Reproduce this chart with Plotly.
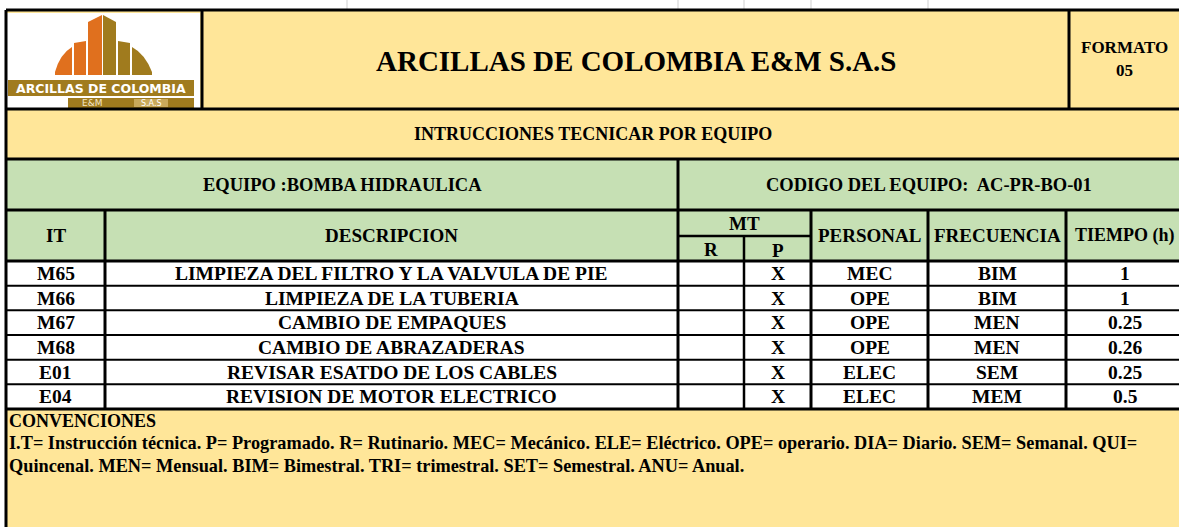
import plotly.graph_objects as go

# ---------------- content (text data) ----------------
company_title = "ARCILLAS DE COLOMBIA E&M S.A.S"
formato_lines = ["FORMATO", "05"]
section_title = "INTRUCCIONES TECNICAR POR EQUIPO"
equipo_label = "EQUIPO :BOMBA HIDRAULICA"
codigo_label = "CODIGO DEL EQUIPO:  AC-PR-BO-01"
main_headers = ["IT", "DESCRIPCION", "PERSONAL", "FRECUENCIA", "TIEMPO (h)"]
mt_headers = ["MT", "R", "P"]

it_codes = ["M65", "M66", "M67", "M68", "E01", "E04"]
descripciones = [
    "LIMPIEZA DEL FILTRO Y LA VALVULA DE PIE",
    "LIMPIEZA DE LA TUBERIA",
    "CAMBIO DE EMPAQUES",
    "CAMBIO DE ABRAZADERAS",
    "REVISAR ESATDO DE LOS CABLES",
    "REVISION DE MOTOR ELECTRICO",
]
mt_r = ["", "", "", "", "", ""]
mt_p = ["X", "X", "X", "X", "X", "X"]
personal = ["MEC", "OPE", "OPE", "OPE", "ELEC", "ELEC"]
frecuencia = ["BIM", "BIM", "MEN", "MEN", "SEM", "MEM"]
tiempo = ["1", "1", "0.25", "0.26", "0.25", "0.5"]

conv_title = "CONVENCIONES"
conv_lines = [
    "I.T= Instrucción técnica. P= Programado. R= Rutinario. MEC= Mecánico. ELE= Eléctrico. "
    "OPE= operario. DIA= Diario. SEM= Semanal. QUI=",
    "Quincenal. MEN= Mensual. BIM= Bimestral. TRI= trimestral. SET= Semestral. ANU= Anual.",
]
logo_text = ["ARCILLAS DE COLOMBIA", "E&M", "S.A.S"]

# ---------------- layout geometry ----------------
W, H = 1179, 527
X_LEFT, X_RIGHT = 6, 1190
Y_TOP, Y_HEAD, Y_SEC, Y_EQ, Y_MT, Y_HDR, Y_DATA_END = 10, 109, 159, 210, 236, 261, 409
X_LOGO, X_FORM = 202, 1069
# column boundaries: IT | DESC | R | P | PERSONAL | FRECUENCIA | TIEMPO
COLS = [X_LEFT, 105, 678, 744, 811, 928, 1066, 1184]
ROW_H = (Y_DATA_END - Y_HDR) / len(it_codes)

YELLOW = "#FFE699"
GREEN = "#C6E0B4"
ORANGE = "#E0701E"
OLIVE = "#A07B1E"
FONT = "Liberation Serif"

shapes = []
annotations = []


def rect(x0, y0, x1, y1, color):
    shapes.append(dict(type="rect", xref="x", yref="y", x0=x0, y0=y0, x1=x1, y1=y1,
                       fillcolor=color, line=dict(width=0), layer="below"))


def hline(y, x0, x1, w=3, color="black"):
    shapes.append(dict(type="line", xref="x", yref="y", x0=x0, x1=x1, y0=y, y1=y,
                       line=dict(color=color, width=w)))


def vline(x, y0, y1, w=3, color="black"):
    shapes.append(dict(type="line", xref="x", yref="y", x0=x, x1=x, y0=y0, y1=y1,
                       line=dict(color=color, width=w)))


def text(x, y, s, size=19, anchor="center", color="black", family=FONT, bold=True):
    annotations.append(dict(x=x, y=y, xref="x", yref="y", text=s, showarrow=False,
                            xanchor=anchor, yanchor="middle",
                            font=dict(family=family, size=size, color=color,
                                      weight="bold" if bold else "normal")))


# backgrounds
rect(X_LEFT, Y_TOP, X_RIGHT, Y_SEC, YELLOW)
rect(X_LEFT, Y_SEC, X_RIGHT, Y_HDR, GREEN)
rect(X_LEFT, Y_HDR, X_RIGHT, Y_DATA_END, "white")
rect(X_LEFT, Y_DATA_END, X_RIGHT, H + 5, YELLOW)

# faint gridline stubs above the frame
for gx in [347, 678, 744, 811, 928]:
    vline(gx, 0, Y_TOP, w=1, color="#CFCFCF")

# ---------------- logo ----------------
rect(7, 13, 200, 108, "white")
logo_paths = [
    ("M55,75 L55,72 Q60,54 72,47 L72,75 Z", ORANGE),
    ("M74,75 L74,43 L86,41 L86,75 Z", ORANGE),
    ("M88,75 L88,22 L102,15 L102,75 Z", ORANGE),
    ("M103,75 L103,15 L116,22 L116,75 Z", OLIVE),
    ("M118,75 L118,41 L130,43 L130,75 Z", OLIVE),
    ("M132,75 L132,47 Q145,54 152,72 L152,75 Z", OLIVE),
]
for p, c in logo_paths:
    shapes.append(dict(type="path", xref="x", yref="y", path=p, fillcolor=c,
                       line=dict(width=0)))
rect(8, 80, 194, 96, OLIVE)
rect(68, 98, 194, 108, OLIVE)
rect(134, 99, 168, 107, "#C9A95A")
text(101, 88.5, logo_text[0], size=12.5, color="white", family="DejaVu Sans")
text(92, 103, logo_text[1], size=9, color="#F3E6C8", family="DejaVu Sans", bold=False)
text(151, 103, logo_text[2], size=8, color="white", family="DejaVu Sans", bold=False)

# ---------------- header texts ----------------
text((X_LOGO + X_FORM) / 2, 61, company_title, size=29)
text(1124, 47, formato_lines[0], size=17)
text(1124, 70, formato_lines[1], size=17)
text((X_LEFT + 1180) / 2, (Y_HEAD + Y_SEC) / 2, section_title, size=18)
text((X_LEFT + COLS[2]) / 2, (Y_SEC + Y_EQ) / 2, equipo_label, size=18.5)
text((COLS[2] + 1180) / 2, (Y_SEC + Y_EQ) / 2, codigo_label, size=18.5)

y_hdr_mid = (Y_EQ + Y_HDR) / 2
text((COLS[0] + COLS[1]) / 2, y_hdr_mid, main_headers[0])
text((COLS[1] + COLS[2]) / 2, y_hdr_mid, main_headers[1])
text((COLS[4] + COLS[5]) / 2, y_hdr_mid, main_headers[2])
text((COLS[5] + COLS[6]) / 2, y_hdr_mid, main_headers[3])
text((COLS[6] + COLS[7]) / 2, y_hdr_mid, main_headers[4], size=18)
text((COLS[2] + COLS[4]) / 2, (Y_EQ + Y_MT) / 2, mt_headers[0])
text((COLS[2] + COLS[3]) / 2, (Y_MT + Y_HDR) / 2 + 1, mt_headers[1])
text((COLS[3] + COLS[4]) / 2, (Y_MT + Y_HDR) / 2 + 2, mt_headers[2])

# ---------------- data rows ----------------
columns_data = [it_codes, descripciones, mt_r, mt_p, personal, frecuencia, tiempo]
for i in range(len(it_codes)):
    yc = Y_HDR + ROW_H * (i + 0.5)
    for c, col in enumerate(columns_data):
        s = col[i]
        if s:
            text((COLS[c] + COLS[c + 1]) / 2, yc, s, size=19.5)

# ---------------- conventions ----------------
text(7, 421, conv_title, size=18, anchor="left")
text(7, 443, conv_lines[0], size=18.3, anchor="left")
text(7, 466, conv_lines[1], size=18.3, anchor="left")

# ---------------- borders ----------------
hline(Y_TOP, X_LEFT, X_RIGHT)
hline(Y_HEAD, X_LEFT, X_RIGHT)
hline(Y_SEC, X_LEFT, X_RIGHT)
hline(Y_EQ, X_LEFT, X_RIGHT)
hline(Y_MT, COLS[2], COLS[4], w=2.5)
hline(Y_HDR, X_LEFT, X_RIGHT)
for k in range(1, len(it_codes)):
    hline(Y_HDR + ROW_H * k, X_LEFT, X_RIGHT, w=2)
hline(Y_DATA_END, X_LEFT, X_RIGHT)

vline(X_LEFT, Y_TOP, H + 5)
vline(X_LOGO, Y_TOP, Y_HEAD)
vline(X_FORM, Y_TOP, Y_HEAD)
vline(COLS[2], Y_SEC, Y_DATA_END)
vline(COLS[1], Y_EQ, Y_DATA_END)
vline(COLS[3], Y_MT, Y_DATA_END, w=2.5)
for cx in COLS[4:7]:
    vline(cx, Y_EQ, Y_DATA_END)

fig = go.Figure()
fig.update_layout(
    width=W, height=H,
    margin=dict(l=0, r=0, t=0, b=0),
    paper_bgcolor="white", plot_bgcolor="white",
    xaxis=dict(range=[0, W], visible=False, fixedrange=True),
    yaxis=dict(range=[H, 0], visible=False, fixedrange=True),
    shapes=shapes, annotations=annotations, showlegend=False,
)
fig.write_html(
    "out.html",
    config={"displayModeBar": False},
    post_script="document.body.style.margin='0px';document.body.style.overflow='hidden';",
)
